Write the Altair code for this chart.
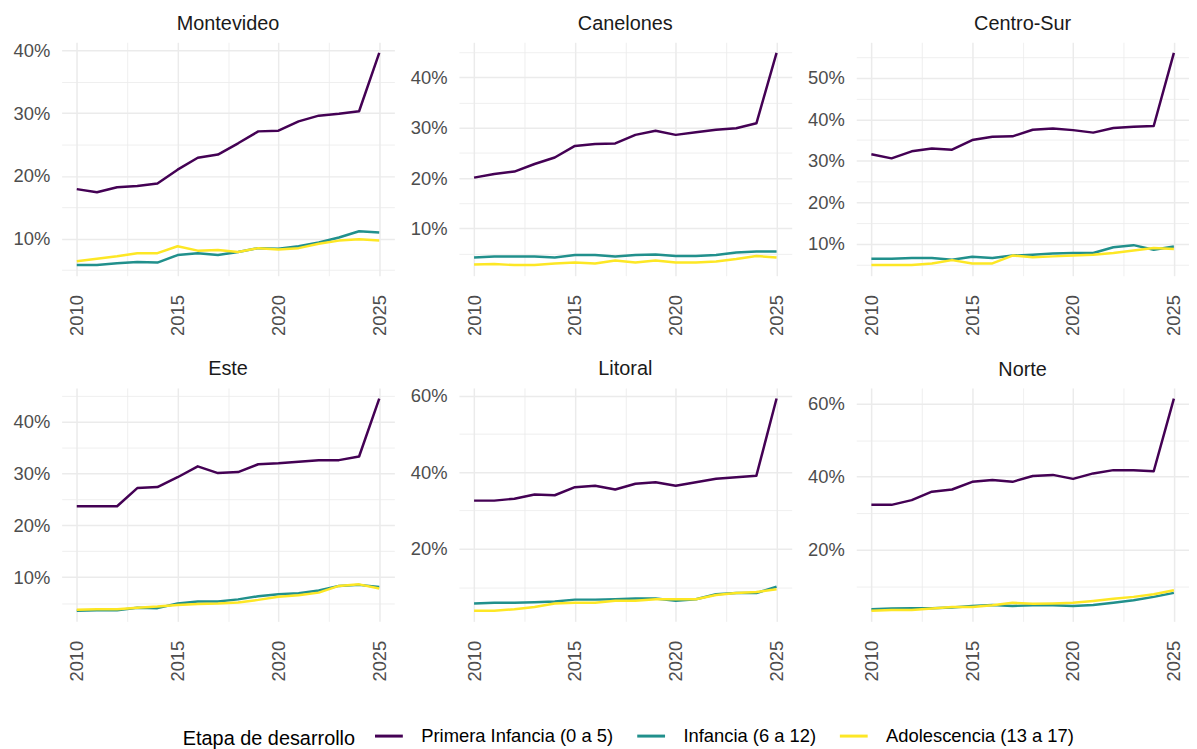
import altair as alt
import pandas as pd

years = list(range(2010, 2026))
regions = ["Montevideo", "Canelones", "Centro-Sur", "Este", "Litoral", "Norte"]
etapas = ["Primera Infancia (0 a 5)", "Infancia (6 a 12)", "Adolescencia (13 a 17)"]
colors = ["#440154", "#21908C", "#FDE725"]
major_steps = [10, 10, 10, 10, 20, 20]

montevideo_primera = [17.9, 17.4, 18.2, 18.4, 18.8, 21.0, 22.9, 23.4, 25.2, 27.1, 27.2, 28.7, 29.6, 29.9, 30.3, 39.6]
montevideo_infancia = [5.8, 5.8, 6.1, 6.3, 6.2, 7.4, 7.7, 7.4, 7.9, 8.5, 8.4, 8.8, 9.4, 10.2, 11.2, 11.0]
montevideo_adolescencia = [6.4, 6.8, 7.2, 7.7, 7.7, 8.8, 8.1, 8.2, 7.9, 8.5, 8.3, 8.5, 9.2, 9.7, 9.9, 9.7]

canelones_primera = [20.1, 20.8, 21.3, 22.8, 24.1, 26.4, 26.8, 26.9, 28.6, 29.4, 28.6, 29.1, 29.6, 29.9, 30.9, 44.9]
canelones_infancia = [4.2, 4.4, 4.4, 4.4, 4.2, 4.7, 4.7, 4.4, 4.7, 4.8, 4.5, 4.5, 4.7, 5.2, 5.4, 5.4]
canelones_adolescencia = [2.8, 2.9, 2.7, 2.7, 3.0, 3.2, 3.0, 3.6, 3.2, 3.6, 3.2, 3.2, 3.4, 3.9, 4.5, 4.2]

centro_sur_primera = [31.6, 30.6, 32.3, 33.0, 32.7, 35.0, 35.8, 35.9, 37.5, 37.8, 37.4, 36.8, 37.9, 38.2, 38.4, 56.0]
centro_sur_infancia = [6.4, 6.4, 6.6, 6.6, 6.2, 6.9, 6.6, 7.2, 7.4, 7.7, 7.8, 7.8, 9.2, 9.7, 8.6, 9.4]
centro_sur_adolescencia = [4.9, 4.9, 4.9, 5.3, 6.1, 5.3, 5.3, 7.2, 6.8, 7.0, 7.2, 7.4, 7.8, 8.4, 9.0, 8.8]

este_primera = [23.7, 23.7, 23.7, 27.2, 27.4, 29.3, 31.4, 30.1, 30.3, 31.8, 32.0, 32.3, 32.6, 32.6, 33.3, 44.5]
este_infancia = [3.5, 3.6, 3.6, 4.1, 4.0, 4.9, 5.3, 5.3, 5.7, 6.3, 6.7, 6.9, 7.4, 8.3, 8.5, 8.1]
este_adolescencia = [3.7, 3.8, 3.8, 4.1, 4.3, 4.6, 4.8, 4.9, 5.1, 5.6, 6.2, 6.5, 7.0, 8.3, 8.6, 7.8]

litoral_primera = [32.6, 32.6, 33.1, 34.2, 34.0, 36.1, 36.5, 35.5, 37.0, 37.4, 36.5, 37.4, 38.3, 38.7, 39.1, 59.2]
litoral_infancia = [5.8, 6.0, 6.0, 6.1, 6.3, 6.8, 6.8, 6.9, 7.1, 7.1, 6.5, 6.9, 8.2, 8.5, 8.5, 10.2]
litoral_adolescencia = [3.9, 3.9, 4.3, 4.9, 5.8, 6.0, 6.0, 6.5, 6.5, 6.9, 6.9, 6.9, 8.0, 8.5, 8.8, 9.5]

norte_primera = [32.3, 32.3, 33.6, 35.9, 36.5, 38.6, 39.1, 38.6, 40.2, 40.5, 39.4, 40.9, 41.8, 41.8, 41.5, 61.4]
norte_infancia = [3.7, 3.9, 4.0, 4.0, 4.2, 4.6, 4.9, 4.6, 4.8, 4.8, 4.6, 4.9, 5.5, 6.2, 7.1, 8.2]
norte_adolescencia = [3.3, 3.5, 3.5, 3.9, 4.3, 4.3, 4.8, 5.5, 5.2, 5.3, 5.5, 6.0, 6.6, 7.1, 7.8, 8.9]

series = {
    "Montevideo": [montevideo_primera, montevideo_infancia, montevideo_adolescencia],
    "Canelones": [canelones_primera, canelones_infancia, canelones_adolescencia],
    "Centro-Sur": [centro_sur_primera, centro_sur_infancia, centro_sur_adolescencia],
    "Este": [este_primera, este_infancia, este_adolescencia],
    "Litoral": [litoral_primera, litoral_infancia, litoral_adolescencia],
    "Norte": [norte_primera, norte_infancia, norte_adolescencia],
}

FONT = "Liberation Sans"
GRID = "#EBEBEB"
x_grid_values = [2010, 2012.5, 2015, 2017.5, 2020, 2022.5, 2025]
x_lo, x_hi = 2010 - 0.05 * 15, 2025 + 0.05 * 15

legend = alt.Legend(
    orient="none", legendX=122, legendY=683, direction="horizontal",
    title="Etapa de desarrollo", titleOrient="left", titleFontSize=20,
    titleFont=FONT, titleFontWeight="normal", titleColor="#000000",
    titlePadding=18, titleBaseline="line-top", titleLineHeight=10, titleAnchor="middle",
    labelFontSize=18.5, labelFont=FONT, labelColor="#000000", labelLimit=400,
    symbolType="stroke", symbolSize=784, symbolStrokeWidth=3,
    labelOffset=17, columnPadding=17,
)


def panel(region, step):
    rows = []
    for etapa, vals in zip(etapas, series[region]):
        for yr, v in zip(years, vals):
            rows.append({"year": yr, "value": v, "etapa": etapa})
    d = pd.DataFrame(rows)
    vmin, vmax = d["value"].min(), d["value"].max()
    rng = vmax - vmin
    lo, hi = vmin - 0.05 * rng, vmax + 0.05 * rng
    half = step // 2
    yvals = [v for v in range(0, 101, half) if lo <= v <= hi]
    return alt.Chart(d).mark_line(strokeWidth=2.5, strokeJoin="round").encode(
        x=alt.X("year:Q", title=None,
                scale=alt.Scale(domain=[x_lo, x_hi], nice=False, zero=False),
                axis=alt.Axis(values=x_grid_values, labelAngle=270,
                              labelExpr="datum.value % 5 === 0 ? datum.value : ''",
                              labelFontSize=18.5, labelFont=FONT, labelColor="#4D4D4D",
                              labelPadding=19, ticks=False, domain=False,
                              grid=True, gridColor=GRID,
                              gridWidth={"condition": {"test": "datum.value % 5 === 0", "value": 1.5}, "value": 0.8},
                              labelOverlap=False)),
        y=alt.Y("value:Q", title=None,
                scale=alt.Scale(domain=[lo, hi], nice=False, zero=False),
                axis=alt.Axis(values=yvals,
                              labelExpr=f"datum.value % {step} === 0 ? datum.value + '%' : ''",
                              labelFontSize=18.5, labelFont=FONT, labelColor="#4D4D4D",
                              labelPadding=12, ticks=False, domain=False,
                              grid=True, gridColor=GRID,
                              gridWidth={"condition": {"test": f"datum.value % {step} === 0", "value": 1.5}, "value": 0.8},
                              labelOverlap=False)),
        color=alt.Color("etapa:N", sort=etapas,
                        scale=alt.Scale(domain=etapas, range=colors), legend=legend),
    ).properties(
        width=335, height=235,
        title=alt.TitleParams(region, fontSize=20, font=FONT, fontWeight="normal",
                              color="#1A1A1A", anchor="middle", offset=8),
    )


panels = [panel(r, s) for r, s in zip(regions, major_steps)]
row1 = alt.hconcat(*panels[:3], spacing=15)
row2 = alt.hconcat(*panels[3:], spacing=15)
chart = alt.vconcat(row1, row2, spacing=22).properties(
    padding={"left": 4, "top": 3, "right": 0, "bottom": 0},
    background="white",
).configure_view(stroke=None)

chart.save("out.html", embed_options={"renderer": "svg", "actions": False})
